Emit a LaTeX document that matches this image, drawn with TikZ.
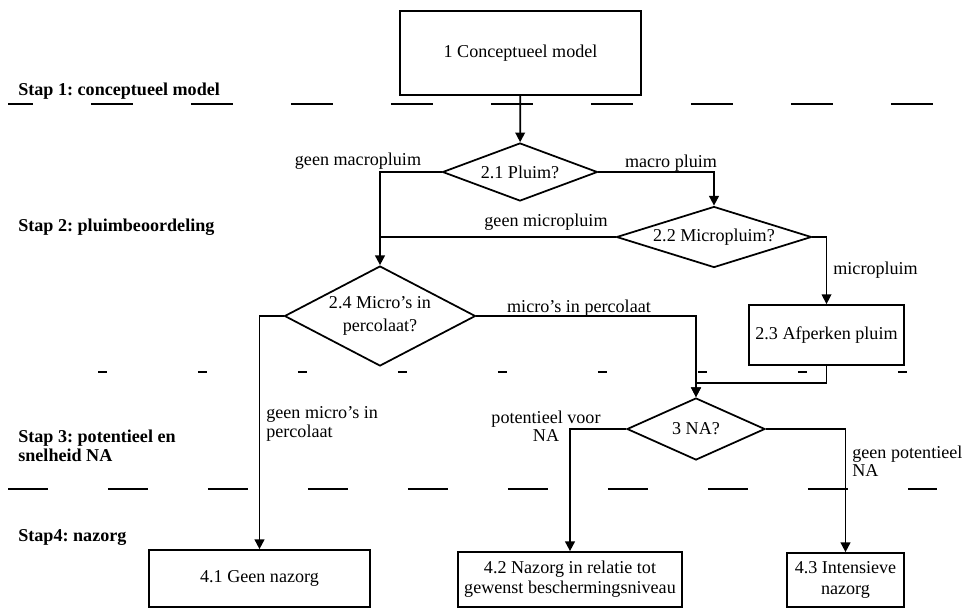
\documentclass[tikz,border=0pt]{standalone}
\usepackage{fontspec}
\setmainfont{Liberation Serif}
\usepackage{tikz}
\usetikzlibrary{arrows.meta, shapes.geometric}
\frenchspacing

\begin{document}
\begin{tikzpicture}[x=0.02cm, y=-0.02cm]
\useasboundingbox (0,0) rectangle (966,610);
\begin{scope}[every node/.style={draw,line width=1pt,inner sep=0pt,align=center,
              font=\fontsize{10.3}{11.5}\selectfont}]
  \node[minimum width=4.82cm, minimum height=1.68cm] (b1) at (520.5,53) {1 Conceptueel model};
  \node[diamond, aspect=2.7, minimum width=3.1cm, minimum height=1.16cm] (d21) at (520,172) {2.1 Pluim?};
  \node[diamond, aspect=3.2, minimum width=3.9cm, minimum height=1.22cm] (d22) at (714,237) {2.2 Micropluim?};
  \node[minimum width=3.1cm, minimum height=1.2cm] (b23) at (826.5,335) {2.3 Afperken pluim};
  \node[diamond, aspect=1.9, minimum width=3.82cm, minimum height=2cm,
        font=\fontsize{10.3}{13}\selectfont] (d24) at (380,316) {2.4 Micro’s in\\percolaat?};
  \node[diamond, aspect=2.2, minimum width=2.76cm, minimum height=1.24cm] (d3) at (696,429) {3 NA?};
  \node[minimum width=4.42cm, minimum height=1.14cm] (b41) at (259.5,578.5) {4.1 Geen nazorg};
  \node[minimum width=4.48cm, minimum height=1.1cm] (b42) at (570,579.5) {4.2 Nazorg in relatie tot\\gewenst beschermingsniveau};
  \node[minimum width=2.34cm, minimum height=1.08cm] (b43) at (845.5,580) {4.3 Intensieve\\nazorg};
\end{scope}

% stappen
\begin{scope}[every node/.style={anchor=west,inner sep=0pt,align=left,
              font=\bfseries\fontsize{10.3}{10.5}\selectfont}]
  \node (s1) at (18,91) {Stap 1: conceptueel model};
  \node (s2) at (18,227) {Stap 2: pluimbeoordeling};
  \node (s3) at (18,446) {Stap 3: potentieel en\\snelheid NA};
  \node (s4) at (18,537) {Stap4: nazorg};
\end{scope}

\begin{scope}[line width=1.1pt]
  \draw[dash pattern=on 0.84cm off 1.16cm, dash phase=0.34cm] (8,104) -- (934,104);
  \draw[dash pattern=on 0.18cm off 1.82cm] (98,372) -- (908,372);
  \draw[dash pattern=on 0.8cm off 1.2cm] (8,489) -- (937,489);
\end{scope}

\begin{scope}[>={Triangle[length=5.5pt,width=5.5pt]}, line width=1pt]
  \draw[->] (b1) -- (d21);
  \draw[->] (d21.west) -| (d24.north);
  \draw[->] (d21.east) -| (d22.north);
  \draw[line width=0.6pt] (d22.west) -- (d22.west -| d24.north);
  \draw[->, line width=0.7pt] (d22.east) -| (b23.north);
  \draw[->, line width=0.8pt] (b23.south) -- ++(0,17) -| (d3.north);
  \draw[->] (d24.east) -| (d3.north);
  \draw[->] (d24.west) -| (b41.north);
  \draw[->] (d3.west) -| (b42.north);
  \draw[->] (d3.east) -| (b43.north);
\end{scope}

% labels
\begin{scope}[every node/.style={inner sep=0pt,font=\fontsize{10.3}{10.5}\selectfont}]
  \node (l1) at (358,161) {geen macropluim};
  \node (l2) at (671,163) {macro pluim};
  \node (l3) at (546,222) {geen micropluim};
  \node[anchor=west] (l4) at (833,270) {micropluim};
  \node (l5) at (579,308) {micro’s in percolaat};
  \node[anchor=west,align=left] (l6) at (266,424) {geen micro’s in\\percolaat};
  \node[align=center] (l7) at (546,426) {potentieel voor\\NA};
  \node[anchor=west,align=left] (l8) at (852,461) {geen potentieel\\NA};
\end{scope}
\end{tikzpicture}
\end{document}
